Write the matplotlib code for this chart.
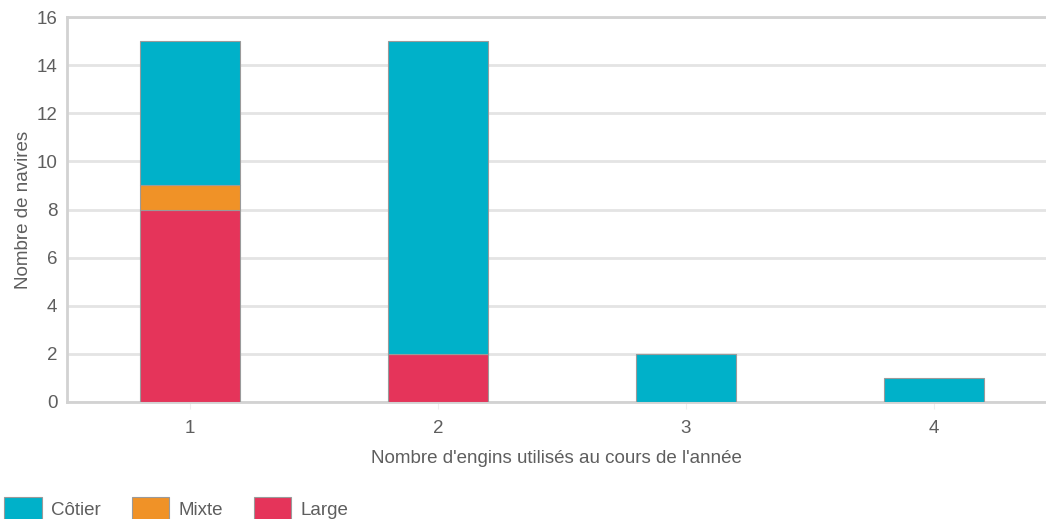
import matplotlib

matplotlib.use("Agg")
import matplotlib.pyplot as plt

# nombre d'engins utilisés -> nombre de navires par type de flottille
categories = [1, 2, 3, 4]
large = [8, 2, 0, 0]
mixte = [1, 0, 0, 0]
cotier = [6, 13, 2, 1]

series_names = ["Côtier", "Mixte", "Large"]
colors = {"Côtier": "#00b1c9", "Mixte": "#f09227", "Large": "#e5345a"}

TEXT = "#5e5e5e"
GRID = "#e4e4e4"
FS = 13.5

plt.rcParams["font.family"] = ["Liberation Sans Narrow", "Liberation Sans", "DejaVu Sans"]

fig = plt.figure(figsize=(10.46, 5.19), dpi=100)
ax = fig.add_axes([67 / 1046, 117 / 519, 1 - 67 / 1046, 385 / 519])

width = 0.403
bottom_mixte = large
bottom_cotier = [a + b for a, b in zip(large, mixte)]
ax.bar(categories, large, width, color=colors["Large"], edgecolor="#9a9a9a", linewidth=0.8, label="Large", zorder=3)
ax.bar(categories, mixte, width, bottom=bottom_mixte, color=colors["Mixte"], edgecolor="#9a9a9a", linewidth=0.8, label="Mixte", zorder=3)
ax.bar(categories, cotier, width, bottom=bottom_cotier, color=colors["Côtier"], edgecolor="#9a9a9a", linewidth=0.8, label="Côtier", zorder=3)

ax.set_xlim(0.504, 4.452)
ax.set_ylim(0, 16)
ax.set_yticks(range(0, 17, 2))
ax.set_xticks(categories)
ax.grid(axis="y", color=GRID, linewidth=2, zorder=0)
ax.set_axisbelow(True)

ax.spines["right"].set_visible(False)
for side in ["left", "bottom", "top"]:
    ax.spines[side].set_color("#d2d2d2")
    ax.spines[side].set_linewidth(2)

ax.tick_params(axis="y", length=0, labelsize=FS, labelcolor=TEXT, pad=7)
ax.tick_params(axis="x", length=5, color="#eeeeee", labelsize=FS, labelcolor=TEXT, pad=8)

ax.set_xlabel("Nombre d'engins utilisés au cours de l'année", fontsize=FS, color=TEXT, labelpad=9)
ax.set_ylabel("Nombre de navires", fontsize=FS, color=TEXT, labelpad=3)

handles, labels = ax.get_legend_handles_labels()
order = [labels.index(n) for n in series_names]
fig.legend([handles[i] for i in order], series_names, loc="upper left",
           bbox_to_anchor=(4 / 1046, 22 / 519), ncol=3, frameon=False, fontsize=FS,
           labelcolor=TEXT, handlelength=2.0, handleheight=1.5, columnspacing=1.65,
           handletextpad=0.5, borderaxespad=0, borderpad=0)

fig.savefig("out.png", dpi=100)
